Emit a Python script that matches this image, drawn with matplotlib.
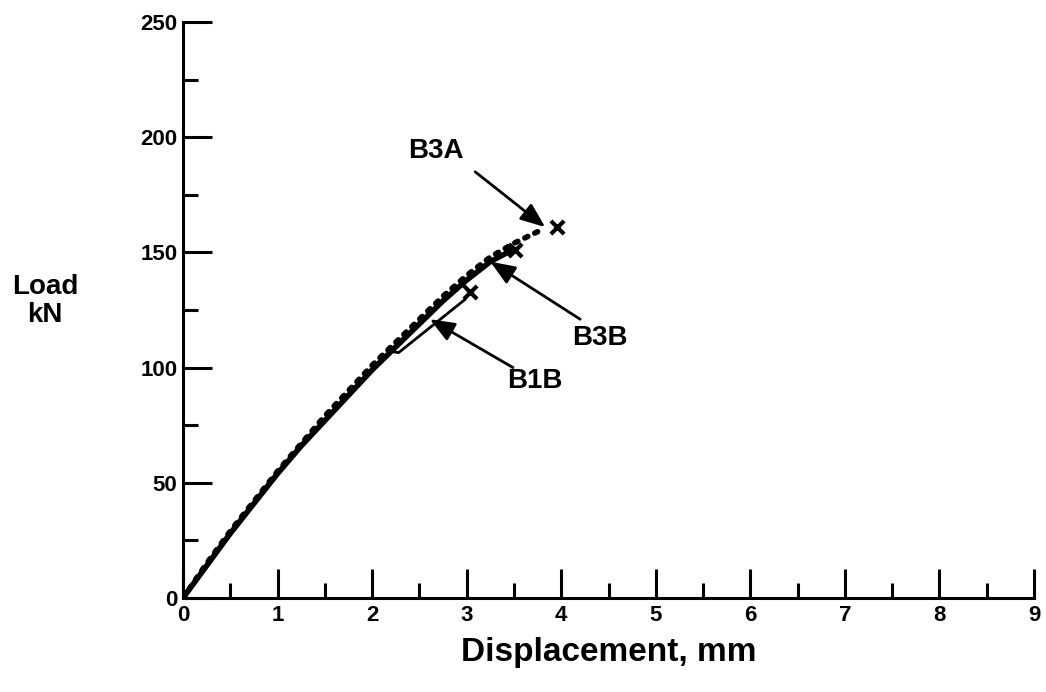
import matplotlib
matplotlib.use("Agg")
import matplotlib.pyplot as plt
from matplotlib.ticker import MultipleLocator

plt.rcParams['font.family'] = ['Liberation Sans', 'DejaVu Sans']
plt.rcParams['font.weight'] = 'bold'

# Load-displacement records for the three specimens
b3a_disp = [0, 0.25, 0.5, 0.75, 1.0, 1.25, 1.5, 1.75, 2.0, 2.25, 2.5, 2.75, 3.0, 3.25, 3.5, 3.75]
b3a_load = [0, 15, 29, 42, 55, 67, 79, 90, 101, 111, 121, 131, 140, 148, 154, 159]

b3b_disp = [0, 0.25, 0.5, 0.75, 1.0, 1.25, 1.5, 1.75, 2.0, 2.25, 2.5, 2.75, 3.0, 3.25, 3.5]
b3b_load = [0, 14, 28, 41, 54, 66, 77, 88, 99, 109, 119, 129, 138, 146, 151.5]

b1b_disp = [0, 0.25, 0.5, 0.75, 1.0, 1.25, 1.5, 1.75, 2.0, 2.2, 2.28, 2.6, 2.98]
b1b_load = [0, 14, 28, 41, 54, 66, 77, 88, 99, 107, 106.5, 117, 129.5]

# Failure points
fail_disp = [3.03, 3.51, 3.95]
fail_load = [133, 151, 161]

# Specimen labels: name, text position, arrow tail and tip
label_names = ["B3A", "B3B", "B1B"]
label_pos = [(2.67, 194), (4.41, 113), (3.72, 94)]
arrow_tail = [(3.09, 185), (4.2, 121), (3.49, 100)]
arrow_tip = [(3.83, 161), (3.25, 146), (2.61, 121)]

fig = plt.figure(figsize=(10.46, 6.92), dpi=100)
ax = fig.add_axes([0.175, 0.136, 0.8135, 0.832])

ax.plot(b3b_disp, b3b_load, color='black', lw=4, solid_capstyle='round')
ax.plot(b3a_disp, b3a_load, color='black', lw=4, linestyle=(0, (0.6, 1.4)),
        dash_capstyle='round')
ax.plot(b1b_disp, b1b_load, color='black', lw=2)
ax.scatter(fail_disp, fail_load, marker='x', s=90, color='black', linewidths=3, zorder=5)

for name, pos, tail, tip in zip(label_names, label_pos, arrow_tail, arrow_tip):
    ax.text(pos[0], pos[1], name, fontsize=20, fontweight='bold', ha='center', va='center')
    ax.annotate('', xy=tip, xytext=tail,
                arrowprops=dict(arrowstyle='-|>,head_length=1.5,head_width=0.6',
                                color='black', lw=2, shrinkA=0, shrinkB=0))

ax.set_xlim(0, 9)
ax.set_ylim(0, 250)
ax.spines['top'].set_visible(False)
ax.spines['right'].set_visible(False)
for side in ('left', 'bottom'):
    ax.spines[side].set_linewidth(2.2)

ax.xaxis.set_major_locator(MultipleLocator(1))
ax.xaxis.set_minor_locator(MultipleLocator(0.5))
ax.yaxis.set_major_locator(MultipleLocator(50))
ax.yaxis.set_minor_locator(MultipleLocator(25))
ax.tick_params(which='major', direction='in', length=21, width=2.2, labelsize=16, pad=5)
ax.tick_params(which='minor', direction='in', length=11, width=2.2)
ax.tick_params(axis='y', which='major', pad=4)
for lbl in ax.get_xticklabels() + ax.get_yticklabels():
    lbl.set_fontweight('bold')

ax.set_xlabel('Displacement, mm', fontsize=24, fontweight='bold', labelpad=8)
fig.text(0.043, 0.565, 'Load\nkN', fontsize=20, fontweight='bold', ha='center', va='center',
         linespacing=1.1)

fig.savefig('out.png', dpi=100)
